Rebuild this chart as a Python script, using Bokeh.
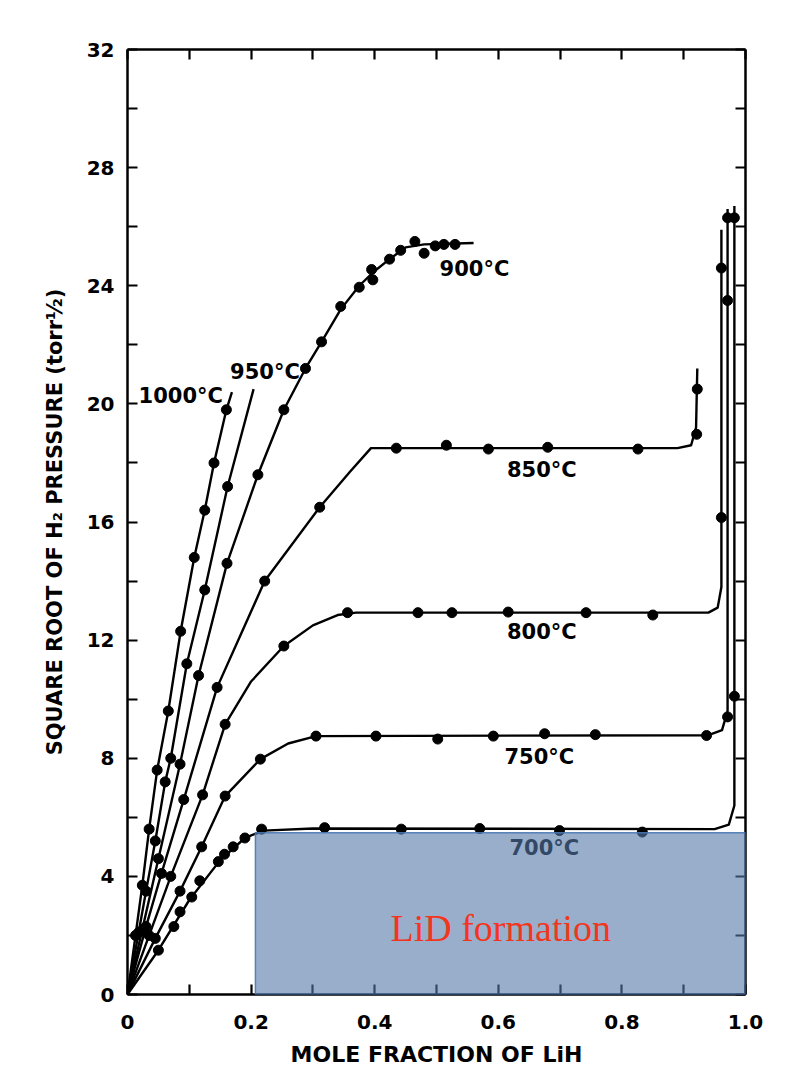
import math
from bokeh.plotting import figure
from bokeh.models import LinearAxis, FixedTicker, BoxAnnotation, Label, Range1d
from bokeh.core.properties import value
from bokeh.embed import file_html
from bokeh.resources import INLINE

# ---------------- data ----------------
# 1000 C
t1000_dot_x = [0.013, 0.024, 0.035, 0.048, 0.066, 0.086, 0.108, 0.125, 0.140, 0.160]
t1000_dot_y = [2.0, 3.7, 5.6, 7.6, 9.6, 12.3, 14.8, 16.4, 18.0, 19.8]
t1000_line_x = [0, 0.013, 0.024, 0.035, 0.048, 0.066, 0.086, 0.108, 0.125, 0.140, 0.160, 0.169]
t1000_line_y = [0, 2.0, 3.7, 5.6, 7.6, 9.6, 12.3, 14.8, 16.4, 18.0, 19.8, 20.4]

# 950 C
t950_dot_x = [0.018, 0.030, 0.045, 0.061, 0.070, 0.096, 0.125, 0.162]
t950_dot_y = [2.1, 3.5, 5.2, 7.2, 8.0, 11.2, 13.7, 17.2]
t950_line_x = [0, 0.018, 0.030, 0.045, 0.061, 0.070, 0.096, 0.125, 0.162, 0.204]
t950_line_y = [0, 2.1, 3.5, 5.2, 7.2, 8.0, 11.2, 13.7, 17.2, 20.5]

# 900 C
t900_dot_x = [0.025, 0.05, 0.085, 0.115, 0.161, 0.211, 0.253, 0.288, 0.314, 0.345,
              0.375, 0.395, 0.397, 0.424, 0.442, 0.465, 0.48, 0.498, 0.512, 0.53]
t900_dot_y = [2.2, 4.6, 7.8, 10.8, 14.6, 17.6, 19.8, 21.2, 22.1, 23.3,
              23.95, 24.55, 24.2, 24.9, 25.2, 25.5, 25.1, 25.35, 25.4, 25.4]
t900_line_x = [0, 0.05, 0.085, 0.115, 0.161, 0.211, 0.253, 0.288, 0.314, 0.345,
               0.375, 0.40, 0.424, 0.45, 0.48, 0.56]
t900_line_y = [0, 4.6, 7.8, 10.8, 14.6, 17.6, 19.8, 21.2, 22.1, 23.2,
               24.0, 24.5, 24.9, 25.3, 25.4, 25.45]

# 850 C
t850_dot_x = [0.03, 0.055, 0.091, 0.145, 0.222, 0.311, 0.435, 0.516, 0.584, 0.68, 0.826, 0.921, 0.922]
t850_dot_y = [2.3, 4.1, 6.6, 10.4, 14.0, 16.5, 18.5, 18.6, 18.47, 18.53, 18.47, 18.97, 20.5]
t850_line_x = [0, 0.03, 0.055, 0.091, 0.145, 0.222, 0.311, 0.36, 0.394, 0.6, 0.89, 0.912, 0.92, 0.922]
t850_line_y = [0, 2.3, 4.1, 6.6, 10.4, 14.0, 16.5, 17.7, 18.5, 18.5, 18.5, 18.6, 19.2, 21.2]

# 800 C
t800_dot_x = [0.035, 0.07, 0.1215, 0.158, 0.253, 0.356, 0.47, 0.525, 0.616, 0.742, 0.85, 0.961, 0.961]
t800_dot_y = [2.0, 4.0, 6.76, 9.15, 11.8, 12.93, 12.93, 12.93, 12.95, 12.93, 12.85, 16.15, 24.6]
t800_line_x = [0, 0.035, 0.07, 0.1215, 0.158, 0.2, 0.253, 0.3, 0.34, 0.37, 0.94, 0.955, 0.961, 0.961]
t800_line_y = [0, 2.0, 4.0, 6.76, 9.15, 10.6, 11.8, 12.5, 12.85, 12.93, 12.93, 13.1, 13.8, 25.9]

# 750 C
t750_dot_x = [0.045, 0.085, 0.12, 0.158, 0.215, 0.305, 0.402, 0.502, 0.592, 0.675, 0.757, 0.937, 0.971, 0.971, 0.971]
t750_dot_y = [1.9, 3.5, 5.0, 6.72, 7.97, 8.75, 8.75, 8.65, 8.75, 8.83, 8.8, 8.77, 9.4, 23.5, 26.3]
t750_line_x = [0, 0.045, 0.085, 0.12, 0.158, 0.215, 0.26, 0.305, 0.94, 0.962, 0.971, 0.971]
t750_line_y = [0, 1.9, 3.5, 5.0, 6.72, 7.97, 8.5, 8.75, 8.78, 8.95, 9.6, 26.6]

# 700 C
t700_dot_x = [0.05, 0.075, 0.085, 0.104, 0.117, 0.147, 0.157, 0.171, 0.19, 0.217,
              0.319, 0.443, 0.57, 0.699, 0.833, 0.982, 0.982]
t700_dot_y = [1.5, 2.3, 2.8, 3.3, 3.85, 4.5, 4.75, 5.0, 5.3, 5.6,
              5.65, 5.6, 5.62, 5.55, 5.5, 10.1, 26.3]
t700_line_x = [0, 0.05, 0.1, 0.15, 0.19, 0.22, 0.3, 0.95, 0.973, 0.982, 0.982]
t700_line_y = [0, 1.5, 3.2, 4.55, 5.3, 5.55, 5.62, 5.6, 5.75, 6.4, 26.7]

# curve labels
label_texts = ["1000°C", "950°C", "900°C", "850°C", "800°C", "750°C", "700°C"]
label_x = [0.018, 0.166, 0.505, 0.614, 0.614, 0.61, 0.618]
label_y = [20.27, 21.07, 24.57, 17.77, 12.29, 8.05, 4.95]

# axis ticks
x_ticks = [0, 0.1, 0.2, 0.3, 0.4, 0.5, 0.6, 0.7, 0.8, 0.9, 1.0]
x_tick_labels = ["0", "", "0.2", "", "0.4", "", "0.6", "", "0.8", "", "1.0"]
y_ticks = [0, 2, 4, 6, 8, 10, 12, 14, 16, 18, 20, 22, 24, 26, 28, 30, 32]
y_tick_labels = ["0", "", "4", "", "8", "", "12", "", "16", "", "20", "", "24", "", "28", "", "32"]

x_title = "MOLE FRACTION OF LiH"
y_title = "SQUARE ROOT OF H₂ PRESSURE (torr½)"

# shaded region (LiD formation)
box_left, box_right, box_bottom, box_top = 0.207, 1.0, 0.0, 5.48
box_text = "LiD formation"

# ---------------- figure ----------------
p = figure(width=784, height=1069, output_backend="svg", toolbar_location=None,
           x_range=Range1d(0, 1.0), y_range=Range1d(0, 32),
           min_border_left=127, min_border_right=39, min_border_top=49, min_border_bottom=73,
           x_axis_location=None, y_axis_location=None)
p.grid.visible = False
p.outline_line_color = None
p.background_fill_color = "white"
p.border_fill_color = "white"

FONT = "DejaVu Sans"


def make_axis(ticks, labels, show, title=None, title_size="20px"):
    ax = LinearAxis(ticker=FixedTicker(ticks=ticks))
    if show:
        ax.major_label_overrides = {t: l for t, l in zip(ticks, labels)}
    else:
        ax.major_label_overrides = {t: "" for t in ticks}
    ax.axis_line_width = 2.5
    ax.axis_line_color = "black"
    ax.major_tick_in = 10
    ax.major_tick_out = 0
    ax.major_tick_line_width = 2.2
    ax.minor_tick_line_color = None
    ax.major_label_text_font = FONT
    ax.major_label_text_font_style = "bold"
    ax.major_label_text_color = "black"
    ax.major_label_text_font_size = "20px"
    if title is not None:
        ax.axis_label = title
        ax.axis_label_text_font = FONT
        ax.axis_label_text_font_style = "bold"
        ax.axis_label_text_font_size = title_size
        ax.axis_label_text_color = "black"
    return ax


bottom = make_axis(x_ticks, x_tick_labels, True, x_title, "22px")
bottom.major_label_standoff = 20
bottom.axis_label_standoff = 10
top = make_axis(x_ticks, x_tick_labels, False)
left = make_axis(y_ticks, y_tick_labels, True, y_title, "21px")
left.major_label_standoff = 13
left.axis_label_standoff = 17
right = make_axis(y_ticks, y_tick_labels, False)
p.add_layout(bottom, "below")
p.add_layout(top, "above")
p.add_layout(left, "left")
p.add_layout(right, "right")

series = [
    (t1000_line_x, t1000_line_y, t1000_dot_x, t1000_dot_y),
    (t950_line_x, t950_line_y, t950_dot_x, t950_dot_y),
    (t900_line_x, t900_line_y, t900_dot_x, t900_dot_y),
    (t850_line_x, t850_line_y, t850_dot_x, t850_dot_y),
    (t800_line_x, t800_line_y, t800_dot_x, t800_dot_y),
    (t750_line_x, t750_line_y, t750_dot_x, t750_dot_y),
    (t700_line_x, t700_line_y, t700_dot_x, t700_dot_y),
]
for lx, ly, dx, dy in series:
    p.line(lx, ly, line_color="black", line_width=2.4, line_join="round")
    p.scatter(dx, dy, size=10, fill_color="black", line_color="black")

p.text(x=label_x, y=label_y, text=label_texts, text_font=value(FONT),
       text_font_style="bold", text_font_size="21px", text_color="black",
       text_align="left", text_baseline="middle")

# shaded box + annotation
p.add_layout(BoxAnnotation(left=box_left, right=box_right, bottom=box_bottom, top=box_top,
                           fill_color="#5378A8", fill_alpha=0.6,
                           line_color="#4A78B4", line_width=1.5, line_alpha=0.9))
p.add_layout(Label(x=0.604, y=2.24, text=box_text, text_align="center",
                   text_baseline="alphabetic", text_font="Liberation Serif",
                   text_font_size="38px", text_color="#F2361E"))

open("out.html", "w").write(file_html(p, INLINE))
